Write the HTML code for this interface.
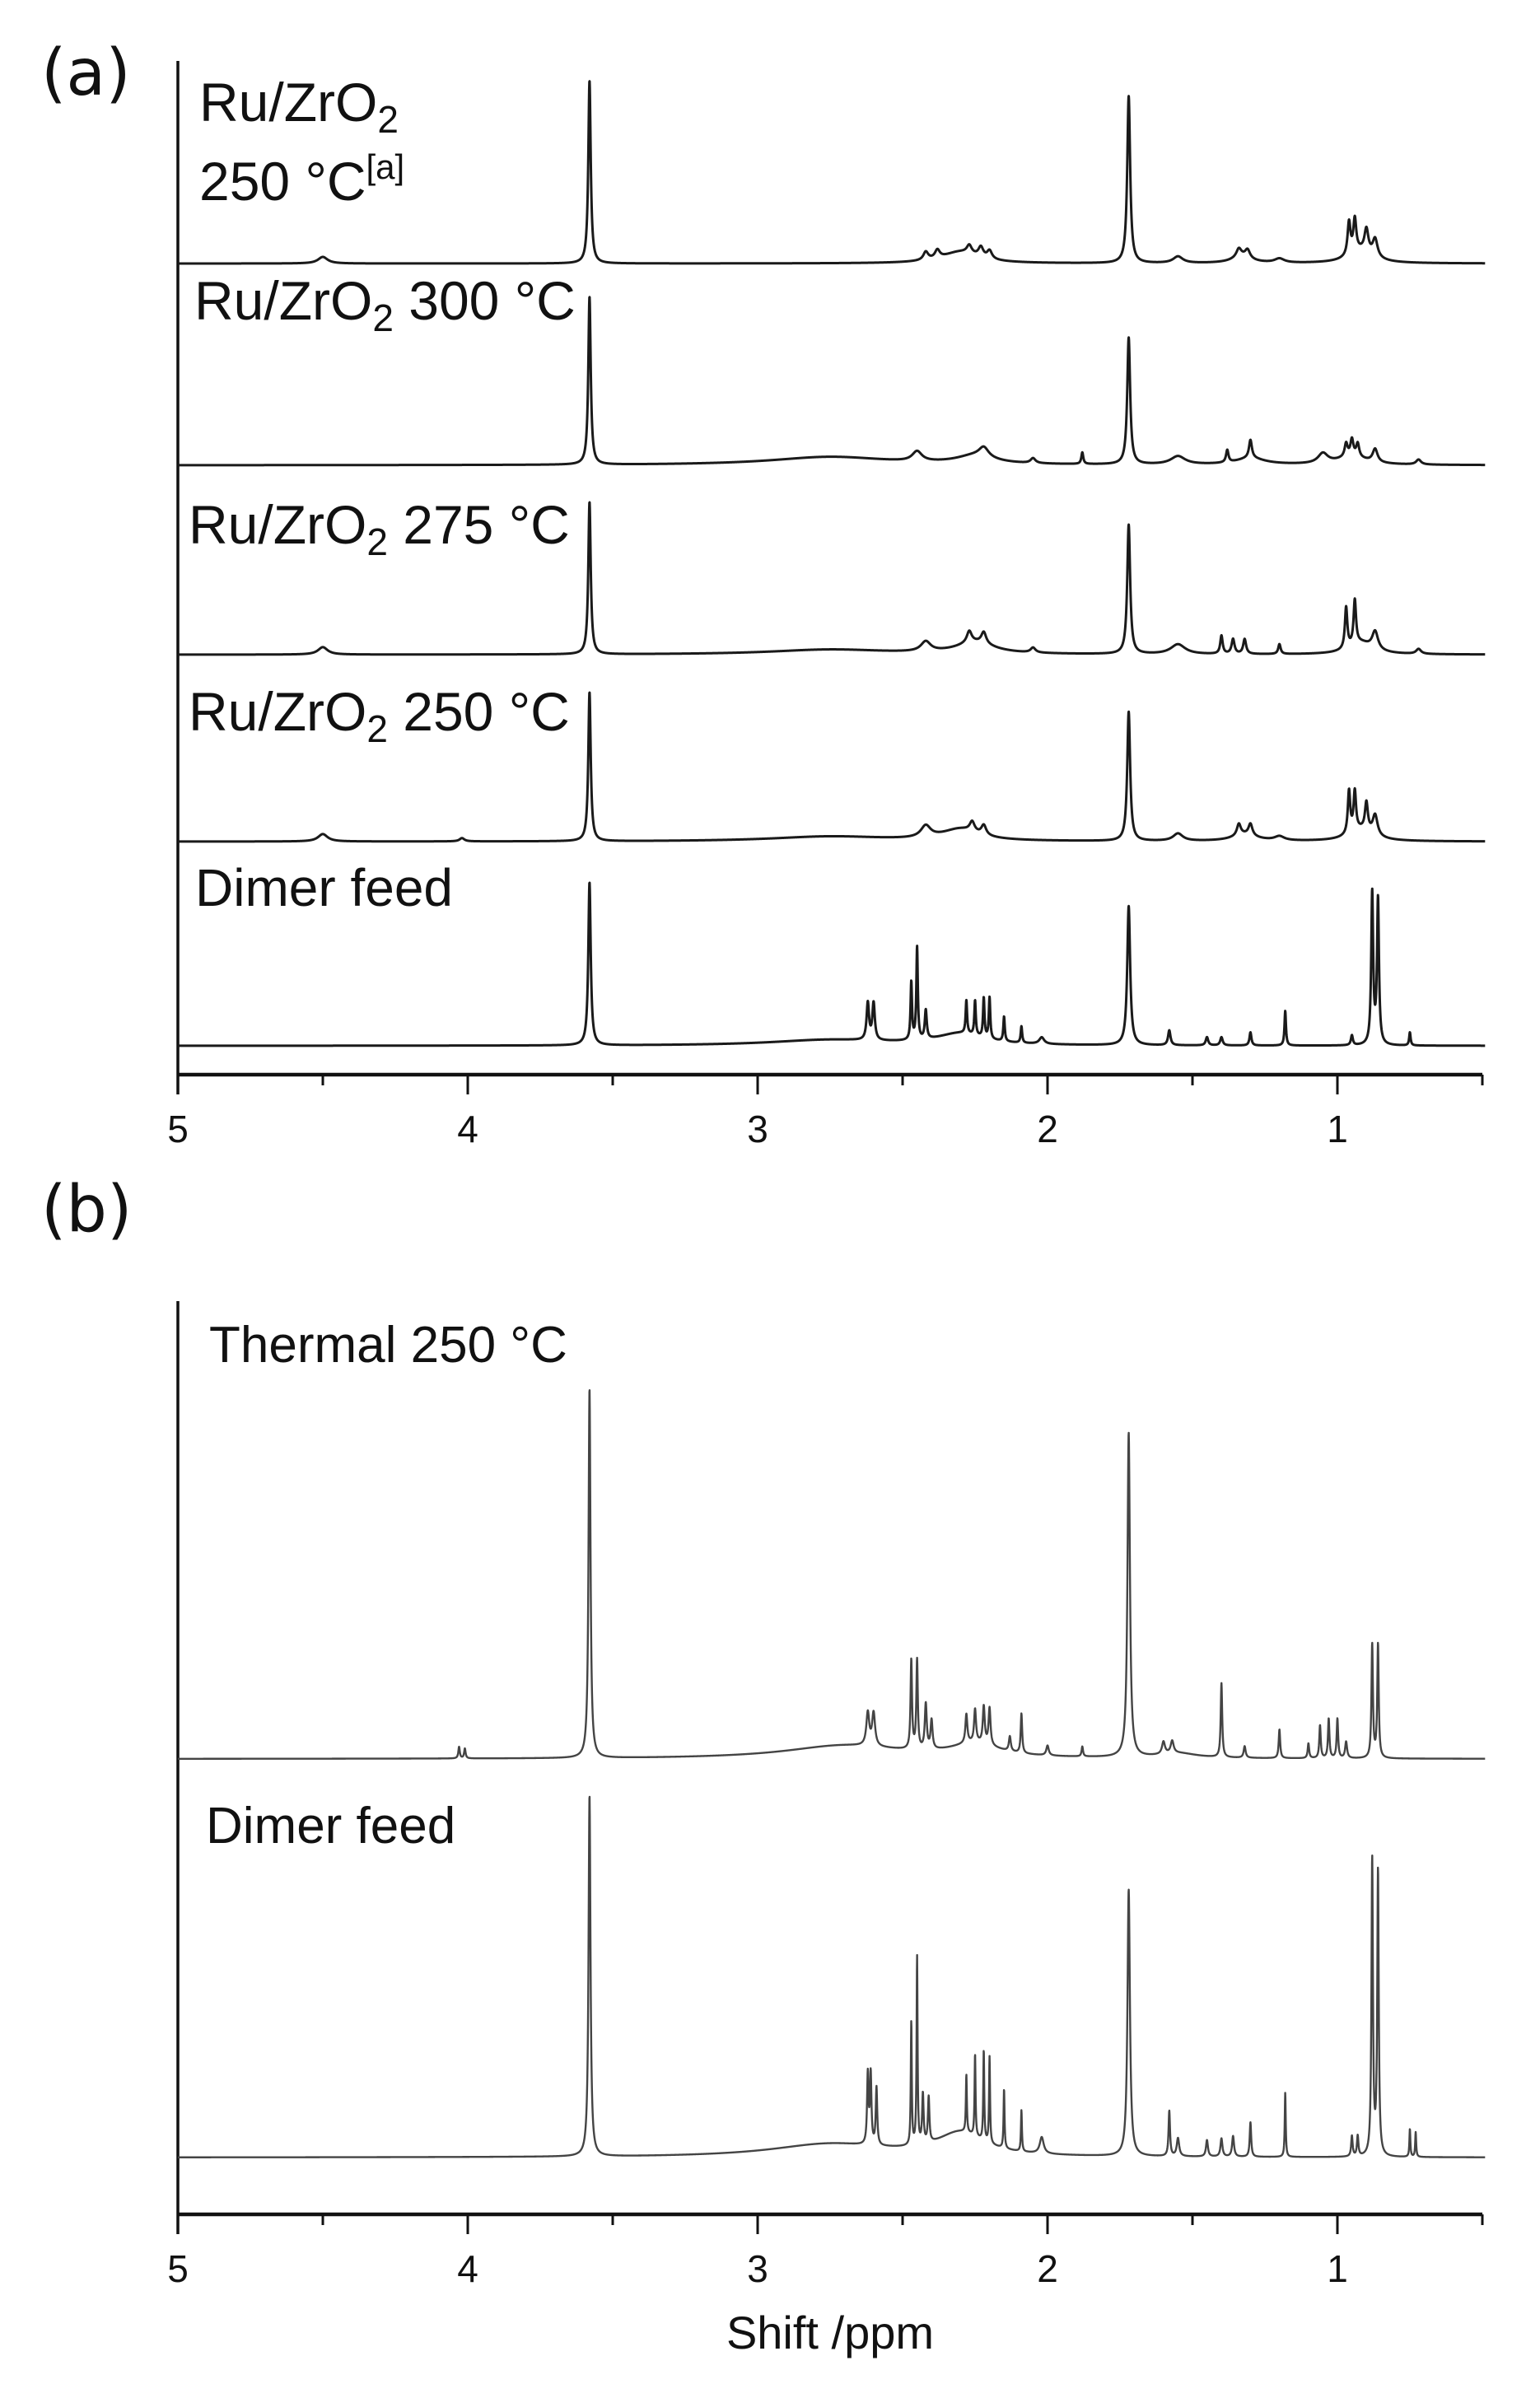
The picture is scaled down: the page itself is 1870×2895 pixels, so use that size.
<!DOCTYPE html>
<html><head><meta charset="utf-8"><style>
html,body{margin:0;padding:0;background:#fff;}
svg{display:block;}
text{font-family:"Liberation Sans",Arial,sans-serif;fill:#111;}
</style></head><body>
<svg id="fig" width="1870" height="2895" viewBox="0 0 1870 2895" xmlns="http://www.w3.org/2000/svg">
<rect width="1870" height="2895" fill="#fff"/>
<g id="panelA"></g>
<g id="panelB"></g>
<text x="50" y="115" font-size="78" style="font-family:'DejaVu Sans',sans-serif">(a)</text>
<text x="50" y="1495" font-size="78" style="font-family:'DejaVu Sans',sans-serif">(b)</text>
<text x="242" y="147" font-size="66">Ru/ZrO<tspan font-size="46" dy="14">2</tspan></text>
<text x="242" y="243" font-size="66">250 °C<tspan font-size="42" dy="-26">[a]</tspan></text>
<text x="236" y="388" font-size="66">Ru/ZrO<tspan font-size="46" dy="14">2</tspan><tspan dy="-14"> 300 °C</tspan></text>
<text x="229" y="660" font-size="66">Ru/ZrO<tspan font-size="46" dy="14">2</tspan><tspan dy="-14"> 275 °C</tspan></text>
<text x="229" y="887" font-size="66">Ru/ZrO<tspan font-size="46" dy="14">2</tspan><tspan dy="-14"> 250 °C</tspan></text>
<text x="237" y="1100" font-size="64">Dimer feed</text>
<text x="254" y="1654" font-size="62">Thermal 250 °C</text>
<text x="250" y="2238" font-size="62">Dimer feed</text>
<text x="1008" y="2852" font-size="56" text-anchor="middle">Shift /ppm</text>
</svg>
<script>
// Axis ticks
const tickValues = [5, 4, 3, 2, 1];
const minorTickValues = [4.5, 3.5, 2.5, 1.5, 0.5];

// Trace data: peak positions (ppm), intensities, linewidths (ppm)
const ru250aPpm = [4.50, 3.58, 2.42, 2.38, 2.27, 2.23, 2.20, 1.72, 1.55, 1.34, 1.31, 1.20, 0.96, 0.94, 0.90, 0.87, 2.3, 1.33, 0.92];
const ru250aInt = [8, 222, 10, 10, 10, 12, 10, 203, 8, 10, 10, 5, 40, 40, 28, 22, 14, 8, 15];
const ru250aW   = [0.02, 0.005, 0.01, 0.01, 0.01, 0.01, 0.01, 0.006, 0.02, 0.01, 0.01, 0.02, 0.006, 0.006, 0.008, 0.01, 0.08, 0.04, 0.05];

const ru300Ppm = [2.75, 3.58, 2.45, 2.22, 2.05, 1.88, 1.72, 1.55, 1.38, 1.30, 1.05, 0.97, 0.95, 0.93, 0.87, 0.72, 2.25, 1.3, 0.95];
const ru300Int = [10, 204, 12, 12, 6, 14, 154, 10, 15, 22, 12, 16, 20, 16, 16, 6, 10, 8, 10];
const ru300W   = [0.25, 0.005, 0.02, 0.02, 0.01, 0.004, 0.006, 0.03, 0.005, 0.006, 0.02, 0.006, 0.006, 0.006, 0.01, 0.01, 0.08, 0.06, 0.06];

const ru275Ppm = [4.50, 3.58, 2.42, 2.27, 2.22, 2.05, 1.72, 1.55, 1.40, 1.36, 1.32, 1.20, 0.97, 0.94, 0.87, 0.72, 2.75, 2.25, 0.92];
const ru275Int = [9, 185, 12, 14, 14, 6, 157, 12, 22, 18, 18, 12, 50, 54, 22, 6, 6, 14, 14];
const ru275W   = [0.02, 0.005, 0.02, 0.01, 0.01, 0.01, 0.006, 0.03, 0.005, 0.006, 0.006, 0.005, 0.005, 0.005, 0.012, 0.01, 0.25, 0.08, 0.05];

const ru250Ppm = [4.50, 4.02, 3.58, 2.42, 2.26, 2.22, 1.72, 1.55, 1.34, 1.30, 1.20, 0.96, 0.94, 0.90, 0.87, 2.75, 2.3, 1.32, 0.92];
const ru250Int = [9, 4, 181, 14, 12, 12, 157, 9, 14, 14, 5, 52, 48, 34, 25, 6, 14, 8, 14];
const ru250W   = [0.02, 0.01, 0.005, 0.02, 0.01, 0.01, 0.006, 0.02, 0.008, 0.008, 0.02, 0.005, 0.005, 0.006, 0.01, 0.25, 0.08, 0.05, 0.05];

const dimerAPpm = [3.58, 2.62, 2.60, 2.47, 2.45, 2.42, 2.28, 2.25, 2.22, 2.20, 2.15, 2.09, 2.02, 1.72, 1.58, 1.45, 1.40, 1.30, 1.18, 0.95, 0.88, 0.86, 0.75, 2.75, 2.3];
const dimerAInt = [198, 45, 45, 70, 112, 35, 40, 42, 48, 50, 30, 20, 8, 169, 18, 10, 10, 16, 42, 12, 184, 176, 16, 7, 14];
const dimerAW   = [0.005, 0.005, 0.005, 0.003, 0.003, 0.004, 0.003, 0.003, 0.003, 0.003, 0.003, 0.003, 0.01, 0.006, 0.005, 0.005, 0.005, 0.004, 0.003, 0.004, 0.004, 0.004, 0.003, 0.25, 0.1];

const thermalPpm = [4.03, 4.01, 3.58, 2.62, 2.60, 2.47, 2.45, 2.42, 2.40, 2.28, 2.25, 2.22, 2.20, 2.13, 2.09, 2.00, 1.88, 1.72, 1.60, 1.57, 1.40, 1.32, 1.20, 1.10, 1.06, 1.03, 1.00, 0.97, 0.88, 0.86, 2.7, 2.25, 1.55];
const thermalInt = [14, 12, 449, 40, 40, 108, 108, 55, 35, 35, 40, 45, 45, 18, 48, 12, 12, 394, 15, 15, 90, 14, 35, 18, 40, 48, 48, 20, 138, 138, 16, 16, 6];
const thermalW   = [0.003, 0.003, 0.004, 0.006, 0.006, 0.003, 0.003, 0.004, 0.004, 0.004, 0.004, 0.004, 0.004, 0.004, 0.003, 0.005, 0.003, 0.005, 0.006, 0.006, 0.003, 0.004, 0.003, 0.003, 0.003, 0.003, 0.003, 0.004, 0.003, 0.003, 0.25, 0.1, 0.08];

const dimerBPpm = [3.58, 2.62, 2.61, 2.59, 2.47, 2.45, 2.43, 2.41, 2.28, 2.25, 2.22, 2.20, 2.15, 2.09, 2.02, 1.72, 1.58, 1.55, 1.45, 1.40, 1.36, 1.30, 1.18, 0.95, 0.93, 0.88, 0.86, 0.75, 0.73, 2.75, 2.3];
const dimerBInt = [439, 85, 85, 70, 150, 228, 60, 55, 70, 100, 110, 105, 72, 50, 20, 324, 55, 22, 20, 22, 25, 42, 78, 25, 25, 360, 345, 34, 30, 16, 28];
const dimerBW   = [0.004, 0.003, 0.003, 0.003, 0.002, 0.002, 0.003, 0.003, 0.002, 0.002, 0.002, 0.002, 0.002, 0.002, 0.008, 0.005, 0.003, 0.005, 0.004, 0.004, 0.004, 0.003, 0.002, 0.003, 0.003, 0.003, 0.003, 0.002, 0.002, 0.25, 0.1];

const NS = "http://www.w3.org/2000/svg";
const X0 = 216, PXPPM = 352;
function xScale(ppm){ return X0 + (5 - ppm) * PXPPM; }

function spectrum(ppmArr, intArr, wArr, ppm){
  let s = 0;
  for (let i = 0; i < ppmArr.length; i++){
    const d = (ppm - ppmArr[i]) / wArr[i];
    s += intArr[i] / (1 + d * d);
  }
  return s;
}

function drawTrace(g, name, baseY, ppmArr, intArr, wArr, stroke, sw){
  let d = "";
  for (let p = 5.0; p >= 0.49; p -= 0.0007){
    const y = baseY - spectrum(ppmArr, intArr, wArr, p);
    d += (d ? "L" : "M") + xScale(p).toFixed(2) + " " + y.toFixed(2);
  }
  const path = document.createElementNS(NS, "path");
  path.setAttribute("d", d);
  path.setAttribute("fill", "none");
  path.setAttribute("stroke", stroke);
  path.setAttribute("stroke-width", sw);
  path.setAttribute("stroke-linejoin", "round");
  
  
  g.appendChild(path);
}

function line(g, x1, y1, x2, y2, w, name){
  const l = document.createElementNS(NS, "line");
  l.setAttribute("x1", x1); l.setAttribute("y1", y1);
  l.setAttribute("x2", x2); l.setAttribute("y2", y2);
  l.setAttribute("stroke", "#111"); l.setAttribute("stroke-width", w);
  
  
  g.appendChild(l);
}

function drawAxes(g, topY, axisY, prefix){
  line(g, X0, topY, X0, axisY + 24, 3.5, prefix + "-y-axis");
  line(g, X0, axisY, xScale(0.5), axisY, 4.5, prefix + "-x-axis");
  tickValues.forEach(v => {
    line(g, xScale(v), axisY, xScale(v), axisY + 24, 3, prefix + "-major-tick");
    const t = document.createElementNS(NS, "text");
    t.setAttribute("x", xScale(v));
    t.setAttribute("y", axisY + 82);
    t.setAttribute("font-size", "46");
    t.setAttribute("text-anchor", "middle");
    t.textContent = String(v);
    
    
    g.appendChild(t);
  });
  minorTickValues.forEach(v => {
    line(g, xScale(v), axisY, xScale(v), axisY + 13, 3, prefix + "-minor-tick");
  });
}

const gA = document.getElementById("panelA");
const gB = document.getElementById("panelB");
drawAxes(gA, 74, 1305, "panel-a");
drawAxes(gB, 1580, 2689, "panel-b");

drawTrace(gA, "trace-ru-250-a", 320, ru250aPpm, ru250aInt, ru250aW, "#1a1a1a", 3);
drawTrace(gA, "trace-ru-300", 565, ru300Ppm, ru300Int, ru300W, "#1a1a1a", 3);
drawTrace(gA, "trace-ru-275", 795, ru275Ppm, ru275Int, ru275W, "#1a1a1a", 3);
drawTrace(gA, "trace-ru-250", 1022, ru250Ppm, ru250Int, ru250W, "#1a1a1a", 3);
drawTrace(gA, "trace-dimer-feed-a", 1270, dimerAPpm, dimerAInt, dimerAW, "#1a1a1a", 3);
drawTrace(gB, "trace-thermal-250", 2136, thermalPpm, thermalInt, thermalW, "#444", 2.4);
drawTrace(gB, "trace-dimer-feed-b", 2620, dimerBPpm, dimerBInt, dimerBW, "#444", 2.4);
</script>
</body></html>
